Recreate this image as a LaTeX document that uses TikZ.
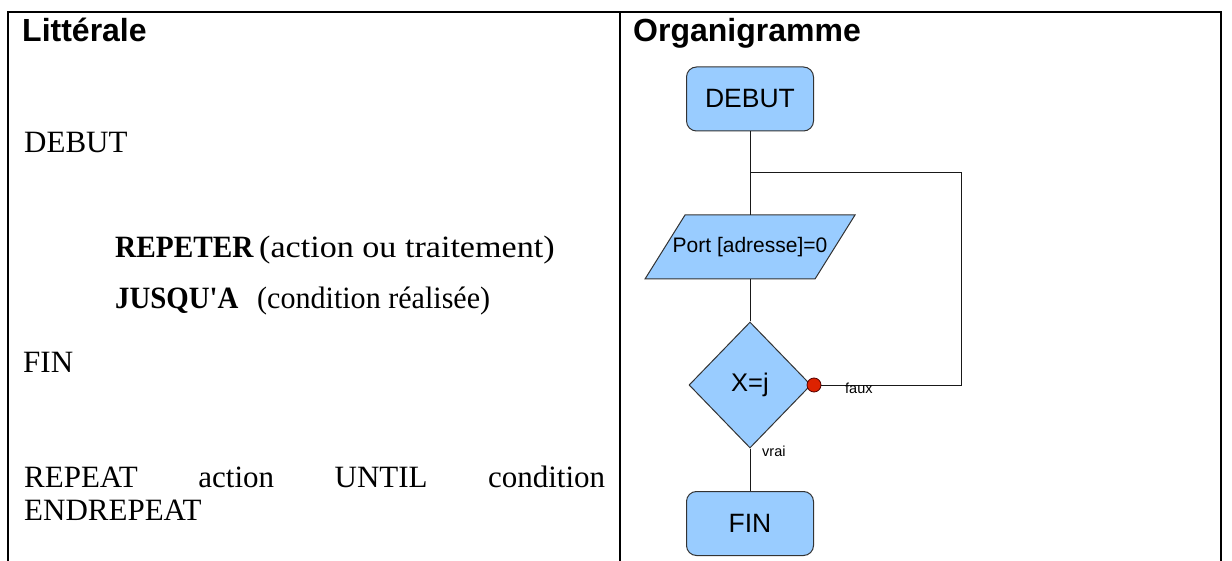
\documentclass[tikz,border=0pt]{standalone}
\usepackage{graphicx}
\usepackage{fontspec}
\setmainfont{Liberation Serif}
\newfontfamily\arialfont{Liberation Sans}
\usetikzlibrary{shapes.geometric}
\definecolor{boxblue}{HTML}{99CCFF}
\definecolor{boxedge}{HTML}{333333}
\definecolor{dotred}{HTML}{DD2200}
\definecolor{dotedge}{HTML}{550000}
\tikzset{
  tableline/.style={line width=2pt, black},
  headtext/.style={anchor=base west, inner sep=0, font=\arialfont\bfseries\fontsize{32}{34}\selectfont},
  littext/.style={anchor=base west, inner sep=0, font=\fontsize{31}{33}\selectfont},
  termbox/.style={draw=boxedge, fill=boxblue, line width=1pt, rounded corners=10pt, minimum width=127pt, minimum height=64pt, inner sep=0, font=\arialfont\fontsize{26.5}{28}\selectfont},
  iobox/.style={draw=boxedge, fill=boxblue, line width=1pt},
  iotext/.style={minimum width=170pt, minimum height=64pt, inner sep=0, font=\arialfont\fontsize{21}{23}\selectfont},
  decbox/.style={shape=diamond, draw=boxedge, fill=boxblue, line width=1pt, minimum width=122pt, minimum height=126pt, inner sep=0, font=\arialfont\fontsize{25.5}{27}\selectfont},
  reddot/.style={circle, draw=dotedge, fill=dotred, line width=0.8pt, minimum size=14pt, inner sep=0},
  flowline/.style={line width=1pt, black!90},
  smalllabel/.style={anchor=base west, inner sep=0, font=\arialfont\fontsize{14.5}{16}\selectfont},
}
\begin{document}
\begin{tikzpicture}[x=1pt,y=-1pt]
\useasboundingbox (0,0) rectangle (1232,561);
% table
\draw[tableline] (7,12) -- (1222,12);
\draw[tableline] (8,12) -- (8,561);
\draw[tableline] (620,12) -- (620,561);
\draw[tableline] (1221,12) -- (1221,561);
% headers
\node[headtext] (h1) at (22,41.5) {Littérale};
\node[headtext] (h2) at (633,41.5) {Organigramme};
% literal text
\node[littext] (t1) at (24,153) {DEBUT};
\node[littext] (t2a) at (115,258) {\scalebox{0.945}[1]{\textbf{REPETER}}};
\node[littext] (t2b) at (259,258) {\scalebox{1.10}[1]{(action ou traitement)}};
\node[littext] (t3a) at (115,309) {\scalebox{0.93}[1]{\textbf{JUSQU\textquotesingle A}}};
\node[littext] (t3b) at (257,309) {\scalebox{0.97}[1]{(condition réalisée)}};
\node[littext] (t4) at (23,373) {FIN};
\node[littext] (t5) at (24,487) {\hbox to 581pt{REPEAT\hfill action\hfill UNTIL\hfill condition}};
\node[littext] (t6) at (24,520) {ENDREPEAT};
% flowchart
\node[termbox] (debut) at (750,99) {DEBUT};
\draw[iobox] (645,279) -- (685,215) -- (855,215) -- (815,279) -- cycle;
\node[iotext] (port) at (750,247) {Port [adresse]=0};
\node[decbox] (dec) at (750,385) {X=j};
\node[termbox] (fin) at (750,523.5) {FIN};
\coordinate (jn) at (750,173);
\coordinate (rc) at (961,385);
\draw[flowline] (debut.south) -- (port.north);
\draw[flowline] (port.south) -- (dec.north);
\draw[flowline] (dec.south) -- (fin.north);
\node[reddot] (dot) at (814,385) {};
\draw[flowline] (dot.east) -- (rc) |- (jn);
\node[smalllabel] (faux) at (845,393) {faux};
\node[smalllabel] (vrai) at (762,456.5) {vrai};
\end{tikzpicture}
\end{document}
